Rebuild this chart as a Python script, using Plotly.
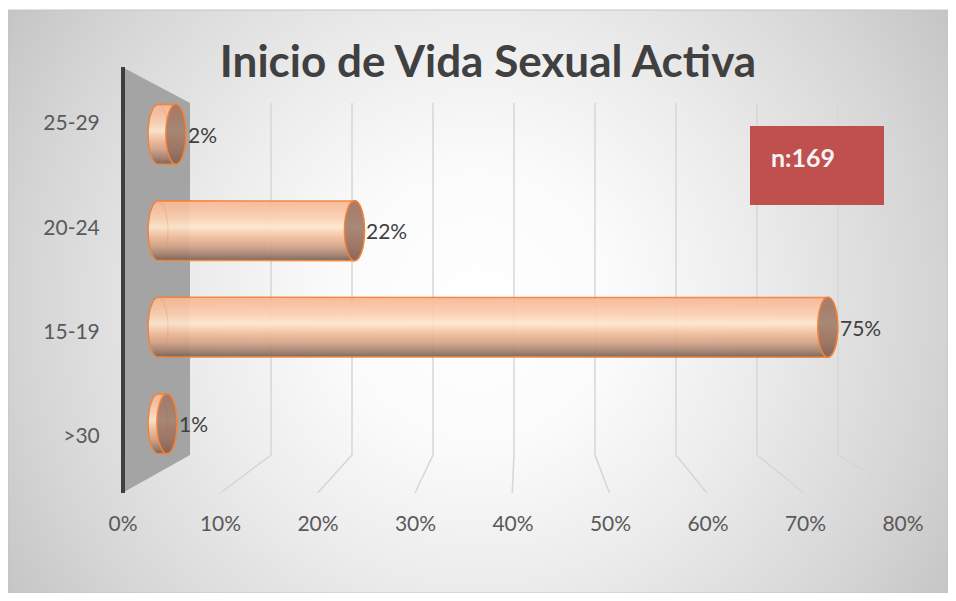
import math
import plotly.graph_objects as go

# ---------------- data ----------------
categories = [">30", "15-19", "20-24", "25-29"]      # bottom -> top
values = [1, 75, 22, 2]                               # percent
x_ticks = [0, 10, 20, 30, 40, 50, 60, 70, 80]
x_tick_labels = [f"{t}%" for t in x_ticks]
title_text = "Inicio de Vida Sexual Activa"
n_text = "n:169"

# ---------------- geometry helpers (page pixels; page has an 8px body margin) ----------------
OFF = 8
W, H = 956 - 2 * OFF, 601 - 2 * OFF
def px(x):
    return (x - OFF) / W
def py(y):
    return 1 - (y - OFF) / H

FONT = "Lato"
TXT = "#404040"

fig = go.Figure()

# ---- canvas subplot (xy) in page-pixel units: background, side wall, gridlines ----
cx, cy, r = 478, 305, 560
fig.add_trace(go.Scatter(
    x=[cx - r, cx + r, cx + r, cx - r, cx - r],
    y=[cy - r, cy - r, cy + r, cy + r, cy - r],
    mode="lines", line=dict(width=0), fill="toself",
    fillgradient=dict(type="radial",
                      colorscale=[[0, "#ffffff"], [0.25, "#fbfbfb"], [0.5, "#ececec"],
                                  [0.8, "#d6d6d6"], [1, "#c4c4c4"]]),
    hoverinfo="skip", showlegend=False, xaxis="x", yaxis="y"))

# left side wall
fig.add_trace(go.Scatter(
    x=[124, 190, 190, 124, 124], y=[68, 103, 455, 492, 68],
    mode="lines", line=dict(width=0), fill="toself", fillcolor="#a4a4a4",
    hoverinfo="skip", showlegend=False, xaxis="x", yaxis="y"))

# back-wall gridlines + floor lines, derived from tick values
gx, gy = [], []
for t in x_ticks[1:]:
    xb = 190 + 8.1 * t
    xf = 123 + 9.73 * t
    gx += [xb, xb, xf, None]
    gy += [103, 455, 493, None]
fig.add_trace(go.Scatter(x=gx, y=gy, mode="lines",
                         line=dict(color="#d6d6d6", width=1.5),
                         hoverinfo="skip", showlegend=False, xaxis="x", yaxis="y"))

# dark front-left edge
fig.add_trace(go.Scatter(x=[123, 123], y=[67, 493], mode="lines",
                         line=dict(color="#3f3f3f", width=4),
                         hoverinfo="skip", showlegend=False, xaxis="x", yaxis="y"))

# ---- bars subplot (x2y2) ----
PPU = 8.93                      # pixels per percent on the bar plane
X0 = 158                        # page x of 0 % on the bar plane
XMIN = -3
bx0, bx1 = px(X0 + PPU * XMIN), px(X0 + PPU * 80)
by0, by1 = py(472), py(86)
px_per_unit = (bx1 - bx0) * W / (80.0 - XMIN)
rx_px = 10
rx = rx_px / px_per_unit
h = 0.31

grad = [[0, "#765f53"], [0.1, "#a1806e"], [0.25, "#d8a589"], [0.42, "#f6c2a2"],
        [0.56, "#fde8cd"], [0.7, "#fbd2b4"], [0.86, "#f9c2a1"], [1, "#f7b892"]]

for i, (cat, v) in enumerate(zip(categories, values)):
    xs, ys = [0, v], [i + h, i + h]
    for k in range(1, 24):
        t = math.pi * k / 24
        xs.append(v + rx * math.sin(t)); ys.append(i + h * math.cos(t))
    xs += [v, 0]; ys += [i - h, i - h]
    for k in range(1, 24):
        t = math.pi * k / 24
        xs.append(-rx * math.sin(t)); ys.append(i - h * math.cos(t))
    xs.append(0); ys.append(i + h)
    fig.add_trace(go.Scatter(
        x=xs, y=ys, mode="lines", fill="toself",
        line=dict(color="#f0843c", width=1.5),
        fillgradient=dict(type="vertical", colorscale=grad),
        opacity=0.93, name=cat, hoverinfo="skip", showlegend=False,
        xaxis="x2", yaxis="y2"))
    # faint inner edge of the left cap
    fig.add_shape(type="circle", xref="x2", yref="y2", xsizemode="pixel",
                  xanchor=0, x0=-rx_px, x1=rx_px, y0=i - h, y1=i + h,
                  line=dict(color="rgba(240,132,60,0.30)", width=1),
                  fillcolor="rgba(0,0,0,0)", layer="above")
    # end face
    fig.add_shape(type="circle", xref="x2", yref="y2", xsizemode="pixel",
                  xanchor=v, x0=-rx_px, x1=rx_px, y0=i - h, y1=i + h,
                  line=dict(color="#f0843c", width=1.5),
                  fillcolor="rgba(135,100,86,0.72)", layer="above")
    fig.add_annotation(x=v, y=i, xref="x2", yref="y2", text=f"{v}%",
                       showarrow=False, xanchor="left", yanchor="middle",
                       xshift=rx_px, font=dict(family=FONT, size=21, color=TXT))

# ---- tick-label subplot (x3y3): front axis labels ----
# x3: 0 % at page x 123, 80 % at 903; y3: categories at page y 436 .. 123
LY0, LY3 = 436, 123
unit = (LY0 - LY3) / 3.0
Y3_BOTTOM, Y3_TOP = 504, 71
y3_range = [-(Y3_BOTTOM - LY0) / unit, 3 + (LY3 - Y3_TOP) / unit]
fig.add_trace(go.Scatter(x=[], y=[], xaxis="x3", yaxis="y3",
                         hoverinfo="skip", showlegend=False))

# red n box
fig.add_shape(type="rect", xref="paper", yref="paper",
              x0=px(750), x1=px(884), y0=py(205), y1=py(126),
              fillcolor="#c0504d", line=dict(width=0), layer="above")
fig.add_annotation(x=px(769), y=py(157), xref="paper", yref="paper", text=n_text,
                   showarrow=False, xanchor="left", yanchor="middle",
                   font=dict(family=FONT, size=25, color="#f4f4f4", weight="bold"))

# chart border
fig.add_shape(type="rect", xref="paper", yref="paper",
              x0=0, x1=px(948), y0=0, y1=py(10),
              line=dict(color="#c4c4c4", width=1), fillcolor="rgba(0,0,0,0)",
              layer="above")

fig.update_layout(
    width=W, height=H, autosize=False,
    margin=dict(l=0, r=0, t=0, b=0, pad=0, autoexpand=False),
    paper_bgcolor="white", plot_bgcolor="rgba(0,0,0,0)",
    showlegend=False,
    title=dict(text=title_text, x=px(488), xanchor="center",
               y=py(62), yanchor="middle", automargin=False,
               font=dict(family=FONT, size=44, color=TXT, weight="bold")),
    xaxis=dict(domain=[0, px(948)], range=[OFF, 948], visible=False, fixedrange=True),
    yaxis=dict(domain=[0, py(10)], range=[OFF + H, 10], visible=False, fixedrange=True),
    xaxis2=dict(domain=[bx0, bx1], range=[XMIN, 80], visible=False, anchor="y2"),
    yaxis2=dict(domain=[by0, by1], range=[-0.5, 3.5], visible=False, anchor="x2"),
    xaxis3=dict(domain=[px(123), px(903)], range=[0, 80], anchor="y3",
                tickvals=x_ticks, ticktext=x_tick_labels, automargin=False,
                showgrid=False, zeroline=False, showline=False,
                ticks="outside", ticklen=1, tickcolor="rgba(0,0,0,0)",
                tickfont=dict(family=FONT, size=21, color="#595959")),
    yaxis3=dict(domain=[py(Y3_BOTTOM), py(Y3_TOP)], range=y3_range, anchor="x3",
                tickvals=list(range(len(categories))), automargin=False,
                ticktext=categories, showgrid=False, zeroline=False,
                showline=False, ticks="outside", ticklen=18,
                tickcolor="rgba(0,0,0,0)",
                tickfont=dict(family=FONT, size=21, color="#595959")),
)

fig.write_html("out.html", config={"staticPlot": True})
